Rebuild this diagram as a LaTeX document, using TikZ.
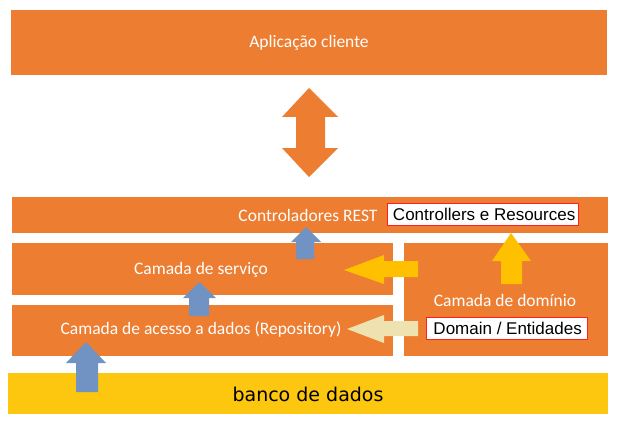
\documentclass[tikz,border=0pt]{standalone}
\usepackage{fontspec}
\setmainfont{Carlito}
\newfontfamily\arialf{Liberation Sans}
\newfontfamily\dbfont{DejaVu Sans}
\definecolor{orng}{HTML}{ED7D31}
\definecolor{blu}{HTML}{7093C3}
\definecolor{yel}{HTML}{FFC000}
\definecolor{dbyel}{HTML}{FCC70E}
\definecolor{beig}{HTML}{EEE3B0}
\definecolor{redb}{HTML}{FF2020}
\begin{document}
\begin{tikzpicture}[x=1pt,y=-1pt,
  layer/.style={fill=orng,draw=none},
  ltext/.style={text=white,font=\fontsize{17.5}{19}\selectfont,inner sep=0pt},
  tag/.style={fill=white,draw=redb,line width=1.3pt,font=\arialf\fontsize{17}{19}\selectfont,inner sep=0pt,minimum height=22pt,anchor=west},
  barrow/.style={fill=blu,draw=none},
  yarrow/.style={fill=yel,draw=none},
  carrow/.style={fill=beig,draw=none}]
\useasboundingbox (0,0) rectangle (617,422);
% boxes
\fill[layer] (11,10) rectangle (607,75);
\node[ltext] (app) at (309,43) {Aplicação cliente};
\fill[layer] (12,197) rectangle (608,233);
\node[ltext] (rest) at (308,215) {Controladores REST};
\fill[layer] (12,243) rectangle (393,295);
\node[ltext] (serv) at (201,270) {Camada de serviço};
\fill[layer] (12,305) rectangle (393,356);
\node[ltext] (repo) at (201,330) {Camada de acesso a dados (Repository)};
\fill[layer] (404,243) rectangle (608,356);
\node[ltext] (dom) at (505,300) {Camada de domínio};
\fill[dbyel] (8,373) rectangle (608,414);
\node[font=\dbfont\fontsize{19}{21}\selectfont,inner sep=0pt] (db) at (308,394) {banco de dados};
% tags
\node[tag,minimum width=191pt] (ctrl) at (387,214.5) {\hspace*{2pt}Controllers e Resources\hfill};
\node[tag,minimum width=161pt] (domt) at (426,328.5) {\hspace*{1pt}Domain / Entidades\hfill};
% double arrow
\fill[orng] (309,88) -- (338,117) -- (325,117) -- (325,148) -- (338,148) -- (309,177)
  -- (282,148) -- (296,148) -- (296,117) -- (282,117) -- cycle;
% blue arrows
\fill[barrow] (306,227) -- (321,242) -- (314,242) -- (314,259) -- (296,259) -- (296,242) -- (291,242) -- cycle;
\fill[barrow] (199.5,282) -- (216,298) -- (209,298) -- (209,316) -- (189,316) -- (189,298) -- (183,298) -- cycle;
\fill[barrow] (86,342) -- (106,363) -- (98,363) -- (98,392) -- (76,392) -- (76,363) -- (66,363) -- cycle;
% yellow arrows
\fill[yarrow] (344,270) -- (384,255) -- (384,261) -- (418,261) -- (418,277) -- (384,277) -- (384,284) -- cycle;
\fill[carrow] (347,329) -- (384,315) -- (384,321) -- (418,321) -- (418,336) -- (384,336) -- (384,343) -- cycle;
\fill[yarrow] (511,233) -- (531,261) -- (522,261) -- (522,284) -- (501,284) -- (501,261) -- (492,261) -- cycle;
\end{tikzpicture}
\end{document}
